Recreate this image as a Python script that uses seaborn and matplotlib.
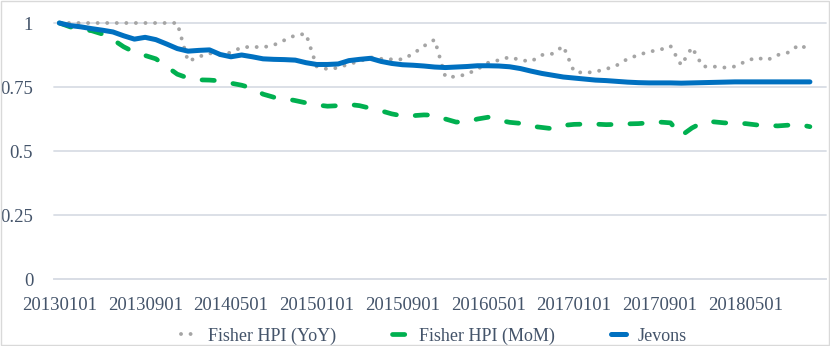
import numpy as np
import pandas as pd
import matplotlib
matplotlib.use("Agg")
import matplotlib.pyplot as plt
import seaborn as sns
from matplotlib.patches import Rectangle

# ---------------- data ----------------
months = pd.date_range("2013-01-01", periods=71, freq="MS").strftime("%Y%m%d").tolist()
tick_labels = ["20130101", "20130901", "20140501", "20150101", "20150901",
               "20160501", "20170101", "20170901", "20180501"]
y_ticks = [0, 0.25, 0.5, 0.75, 1]
y_tick_labels = ["0", "0.25", "0.5", "0.75", "1"]

yoy = [1.0, 1.0, 1.0, 1.0, 1.0, 1.0, 1.0, 1.0, 1.0, 1.0,
       1.0, 1.0, 0.85, 0.868, 0.882, 0.875, 0.885, 0.905, 0.907, 0.905,
       0.914, 0.933, 0.952, 0.958, 0.83, 0.82, 0.825, 0.84, 0.85, 0.866,
       0.86, 0.858, 0.858, 0.88, 0.91, 0.935, 0.79, 0.79, 0.80, 0.82,
       0.845, 0.855, 0.867, 0.855, 0.85, 0.875, 0.88, 0.91, 0.81, 0.805,
       0.81, 0.82, 0.835, 0.86, 0.875, 0.888, 0.895, 0.91, 0.835, 0.905,
       0.83, 0.83, 0.826, 0.83, 0.85, 0.865, 0.855, 0.875, 0.885, 0.915,
       0.895]

mom = [1.0, 0.985, 0.975, 0.97, 0.957, 0.935, 0.907, 0.886, 0.873, 0.86,
       0.83, 0.80, 0.785, 0.778, 0.777, 0.774, 0.765, 0.757, 0.745, 0.722,
       0.71, 0.705, 0.697, 0.688, 0.68, 0.675, 0.677, 0.682, 0.677, 0.667,
       0.657, 0.645, 0.637, 0.638, 0.641, 0.64, 0.625, 0.613, 0.614, 0.625,
       0.632, 0.62, 0.612, 0.608, 0.597, 0.592, 0.587, 0.60, 0.604, 0.605,
       0.605, 0.603, 0.604, 0.606, 0.607, 0.61, 0.613, 0.61, 0.56, 0.59,
       0.612, 0.614, 0.61, 0.608, 0.607, 0.602, 0.60, 0.598, 0.601, 0.603,
       0.595]

jevons = [1.0, 0.99, 0.985, 0.978, 0.972, 0.965, 0.95, 0.937, 0.944, 0.935,
          0.918, 0.90, 0.89, 0.893, 0.895, 0.877, 0.868, 0.875, 0.868, 0.86,
          0.858, 0.857, 0.855, 0.845, 0.838, 0.838, 0.84, 0.853, 0.858, 0.862,
          0.85, 0.842, 0.837, 0.835, 0.832, 0.828, 0.826, 0.828, 0.83, 0.833,
          0.833, 0.832, 0.829, 0.822, 0.812, 0.803, 0.796, 0.789, 0.785, 0.781,
          0.777, 0.775, 0.772, 0.769, 0.767, 0.766, 0.766, 0.766, 0.765, 0.766,
          0.767, 0.768, 0.769, 0.77, 0.77, 0.77, 0.77, 0.77, 0.77, 0.77,
          0.77]

series_names = ["Fisher HPI (YoY)", "Fisher HPI (MoM)", "Jevons"]
colors = ["#A5A5A5", "#00B050", "#0070C0"]

# ---------------- style ----------------
sns.set_style("white")
plt.rcParams["font.family"] = ["Liberation Serif", "DejaVu Serif"]
text_color = "#44546A"
grid_color = "#D9DDE5"

fig = plt.figure(figsize=(8.3, 3.46), dpi=100)
ax = fig.add_axes([54 / 830, 1 - 279 / 346, (826 - 54) / 830, (279 - 23) / 346])

df = pd.DataFrame({"idx": np.arange(len(months)), "month": months,
                   series_names[0]: yoy, series_names[1]: mom, series_names[2]: jevons})

lws = [2.8, 3.4, 3.6]
styles = [(0, (0.01, 2.45)), (0, (2.6, 4.0)), "-"]
handles = []
for name, col, lw, ls in zip(series_names, colors, lws, styles):
    sns.lineplot(data=df, x="idx", y=name, ax=ax, color=col, linewidth=lw, clip_on=False)
    line = ax.lines[-1]
    line.set_linestyle(ls)
    line.set_dash_capstyle("round")
    line.set_solid_capstyle("round")
    line.set_solid_joinstyle("round")
    line.set_dash_joinstyle("round")
    handles.append(line)

ax.set_xlim(-0.5, 71.5)
ax.set_ylim(0, 1)
ax.set_xlabel("")
ax.set_ylabel("")

ax.set_xticks(np.arange(0, 72, 8))
ax.set_xticklabels(tick_labels)
ax.set_xticks(np.arange(-0.5, 72, 1), minor=True)
ax.set_yticks(y_ticks)
ax.set_yticklabels(y_tick_labels)

ax.tick_params(axis="x", which="major", length=0, pad=13, labelsize=13.5, labelcolor=text_color)
ax.tick_params(axis="x", which="minor", length=4, width=1.2, color=grid_color, direction="out")
ax.tick_params(axis="y", which="major", length=0, pad=15, labelsize=13.5, labelcolor=text_color)

ax.yaxis.grid(True, color=grid_color, linewidth=1.3)
ax.xaxis.grid(False)
for gl in ax.get_ygridlines():
    gl.set_clip_on(False)
ax.set_axisbelow(True)

for s in ["top", "left", "right"]:
    ax.spines[s].set_visible(False)
ax.spines["bottom"].set_color(grid_color)
ax.spines["bottom"].set_linewidth(1.3)

leg = fig.legend(handles, series_names, loc="center", bbox_to_anchor=(434 / 830, 1 - 336 / 346),
                 ncol=3, frameon=False, fontsize=13, handlelength=0.85,
                 handletextpad=0.65, columnspacing=3.1)
for t in leg.get_texts():
    t.set_color(text_color)

fig.patches.append(Rectangle((0.0015, 0.003), 0.997, 0.994, transform=fig.transFigure,
                             fill=False, edgecolor="#D9D9D9", linewidth=1.0))

fig.savefig("out.png", dpi=100)
